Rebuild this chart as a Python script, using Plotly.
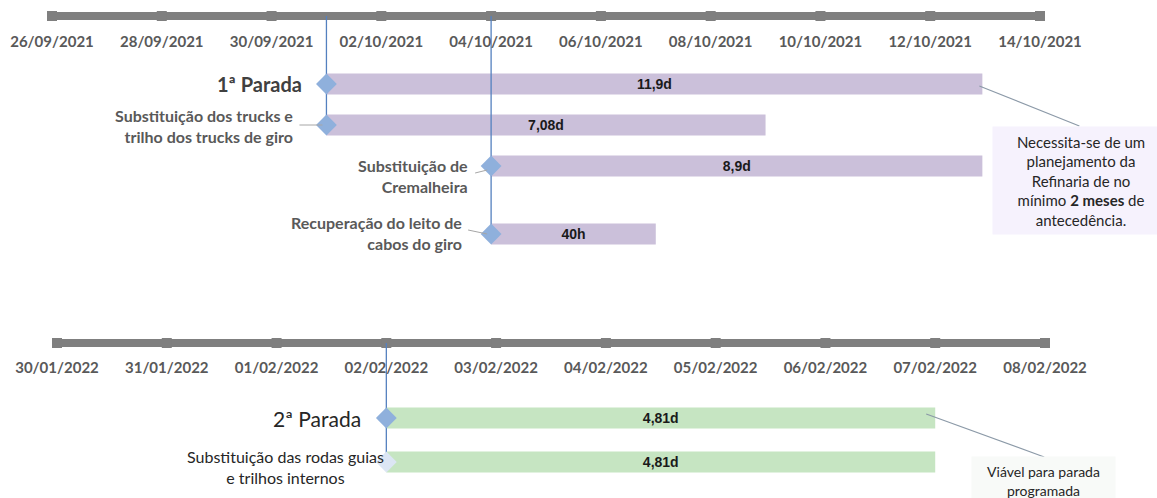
import pandas as pd
import plotly.graph_objects as go

W, H = 1157, 498

# ---------------- data ----------------
top_tasks = [
    "1ª Parada",
    "Substituição dos trucks e<br>trilho dos trucks de giro",
    "Substituição de<br>Cremalheira",
    "Recuperação do leito de<br>cabos do giro",
]
top_starts = ["2021-10-01", "2021-10-01", "2021-10-04", "2021-10-04"]
top_durations_days = [11.95, 8.0, 8.95, 3.0]
top_bar_labels = ["11,9d", "7,08d", "8,9d", "40h"]
top_tick_labels = ["26/09/2021", "28/09/2021", "30/09/2021", "02/10/2021", "04/10/2021",
                   "06/10/2021", "08/10/2021", "10/10/2021", "12/10/2021", "14/10/2021"]
top_note = ("Necessita-se de um<br>planejamento da<br>Refinaria de no<br>"
            "mínimo <b>2 meses</b> de<br>antecedência.")

bottom_tasks = ["2ª Parada", "Substituição das rodas guias<br>e trilhos internos"]
bottom_starts = ["2022-02-02", "2022-02-02"]
bottom_durations_days = [5.0, 5.0]
bottom_bar_labels = ["4,81d", "4,81d"]
bottom_tick_labels = ["30/01/2022", "31/01/2022", "01/02/2022", "02/02/2022", "03/02/2022",
                      "04/02/2022", "05/02/2022", "06/02/2022", "07/02/2022", "08/02/2022"]
bottom_note = "Viável para parada<br>programada"

# ---------------- layout / style constants ----------------
FONT = "Lato"
TOP_AXIS_Y, BOT_AXIS_Y = 16, 343
TOP_ROWS_Y = [84, 125, 166, 234]
BOT_ROWS_Y = [418, 462]
BAR_W = 21
TOP_PX = (52, 1040)   # pixel of first / last tick of upper time axis
BOT_PX = (57, 1045)   # pixel of first / last tick of lower time axis
AXIS_GREY = "#7f7f7f"
LAVENDER = "#cbc0da"
GREEN = "#c6e5c2"
DIAMOND = "#8fb0dc"
MILESTONE_LINE = "#5480bf"
LEADER = "#a6a6a6"

top_label_style = [
    dict(size=20, bold=True, color="#404040", xshift=-22, dy=0, align="right"),
    dict(size=16, bold=True, color="#595959", xshift=-31, dy=1, align="right"),
    dict(size=16, bold=True, color="#595959", xshift=-21, dy=10, align="right"),
    dict(size=16, bold=True, color="#595959", xshift=-27, dy=-1, align="right"),
]
bottom_label_style = [
    dict(size=21, bold=False, color="#262626", xshift=-23, dy=0, align="right"),
    dict(size=16, bold=False, color="#262626", xshift=0, dy=5, align="center"),
]
bottom_diamond_colors = [DIAMOND, "#dce6f4"]


def fmt(ts):
    return pd.Timestamp(ts).strftime("%Y-%m-%d %H:%M:%S.%f")


def axis_range(labels, px):
    t0 = pd.to_datetime(labels[0], format="%d/%m/%Y")
    t1 = pd.to_datetime(labels[-1], format="%d/%m/%Y")
    per_px = (t1 - t0) / (px[1] - px[0])
    return [fmt(t0 - per_px * px[0]), fmt(t1 + per_px * (W - px[1]))]


fig = go.Figure()


def add_section(xa, tick_labels, axis_y, tasks, starts, durs, bar_labels, rows,
                bar_color, diamond_colors, label_styles):
    tick_dates = [fmt(d) for d in pd.to_datetime(tick_labels, format="%d/%m/%Y")]
    # timeline axis bar with square tick marks
    fig.add_trace(go.Scatter(
        x=tick_dates, y=[axis_y] * len(tick_dates), xaxis=xa, yaxis="y",
        mode="lines+markers", line=dict(color=AXIS_GREY, width=8),
        marker=dict(symbol="square", size=10, color=AXIS_GREY),
        hoverinfo="skip"))
    # bars
    fig.add_trace(go.Bar(
        x=[d * 86400000 for d in durs], base=[fmt(s) for s in starts], y=rows,
        orientation="h", width=BAR_W, xaxis=xa, yaxis="y",
        marker=dict(color=bar_color, line=dict(width=0)),
        text=bar_labels, texttemplate="<b>%{text}</b>",
        textposition="inside", insidetextanchor="middle", textangle=0,
        constraintext="none",
        textfont=dict(family="Liberation Sans", size=14, color="#1a1a1a"),
        hoverinfo="skip"))
    # milestone lines from the axis down to the lowest task starting at that date
    for s in dict.fromkeys(starts):
        lowest = max(r for r, st in zip(rows, starts) if st == s)
        fig.add_trace(go.Scatter(
            x=[fmt(s), fmt(s)], y=[axis_y, lowest], xaxis=xa, yaxis="y",
            mode="lines", line=dict(color=MILESTONE_LINE, width=1.3),
            hoverinfo="skip"))
    # start diamonds
    fig.add_trace(go.Scatter(
        x=[fmt(s) for s in starts], y=rows, xaxis=xa, yaxis="y", mode="markers",
        marker=dict(symbol="diamond", size=16, color=diamond_colors, line=dict(width=0)),
        hoverinfo="skip"))
    # task labels
    for t, s, r, st in zip(tasks, starts, rows, label_styles):
        txt = f"<b>{t}</b>" if st["bold"] else t
        fig.add_annotation(
            x=fmt(s), xref=xa, y=r + st["dy"], yref="y", text=txt, showarrow=False,
            xanchor="right", yanchor="middle", xshift=st["xshift"], align=st["align"],
            font=dict(family=FONT, size=st["size"], color=st["color"]))


add_section("x", top_tick_labels, TOP_AXIS_Y, top_tasks, top_starts, top_durations_days,
            top_bar_labels, TOP_ROWS_Y, LAVENDER, [DIAMOND] * 4, top_label_style)
add_section("x2", bottom_tick_labels, BOT_AXIS_Y, bottom_tasks, bottom_starts,
            bottom_durations_days, bottom_bar_labels, BOT_ROWS_Y, GREEN,
            bottom_diamond_colors, bottom_label_style)

# small leader lines from the labels to the diamonds (pixel offsets from the start date)
leaders = [
    ("x", top_starts[1], -27, -4, TOP_ROWS_Y[1], TOP_ROWS_Y[1]),
    ("x", top_starts[2], -16, -4, TOP_ROWS_Y[2] + 7, TOP_ROWS_Y[2] + 4),
    ("x", top_starts[3], -23, -4, TOP_ROWS_Y[3] - 4, TOP_ROWS_Y[3]),
]
for xa, s, x0, x1, y0, y1 in leaders:
    fig.add_shape(type="line", xref=xa, xsizemode="pixel", xanchor=fmt(s), x0=x0, x1=x1,
                  yref="y", y0=y0, y1=y1, line=dict(color=LEADER, width=1))

# callouts
top_end = pd.Timestamp(top_starts[0]) + pd.Timedelta(days=top_durations_days[0])
bot_end = pd.Timestamp(bottom_starts[0]) + pd.Timedelta(days=bottom_durations_days[0])

fig.add_shape(type="line", xref="x", xsizemode="pixel", xanchor=fmt(top_end), x0=-3, x1=97,
              yref="y", y0=TOP_ROWS_Y[0] + 2, y1=126, line=dict(color="#8c9aa8", width=1.2))
fig.add_annotation(x=fmt(top_end), xref="x", y=180, yref="y", text=top_note,
                   showarrow=False, xanchor="left", yanchor="middle", xshift=10,
                   width=166, height=97, borderpad=5, bgcolor="#f6f2fd", align="center",
                   valign="middle", font=dict(family=FONT, size=15, color="#262626"))

fig.add_shape(type="line", xref="x2", xsizemode="pixel", xanchor=fmt(bot_end), x0=-9, x1=109,
              yref="y", y0=BOT_ROWS_Y[0] - 4, y1=457, line=dict(color="#8c9aa8", width=1.2))
fig.add_annotation(x=fmt(bot_end), xref="x2", y=481, yref="y", text=bottom_note,
                   showarrow=False, xanchor="left", yanchor="middle", xshift=36,
                   width=133, height=38, borderpad=5, bgcolor="#f8faf8", align="center",
                   valign="middle", font=dict(family=FONT, size=14, color="#262626"))

tickfont = dict(family=FONT, size=15, color="#595959", weight="bold")
fig.update_layout(
    width=W, height=H, margin=dict(l=0, r=0, t=0, b=0),
    paper_bgcolor="white", plot_bgcolor="white", showlegend=False, barmode="overlay",
    xaxis=dict(type="date", range=axis_range(top_tick_labels, TOP_PX), domain=[0, 1],
               tickvals=[fmt(d) for d in pd.to_datetime(top_tick_labels, format="%d/%m/%Y")],
               ticktext=top_tick_labels, showgrid=False, zeroline=False, showline=False,
               ticks="", anchor="free", position=1 - 31 / H, side="bottom",
               tickfont=tickfont, fixedrange=True),
    xaxis2=dict(type="date", range=axis_range(bottom_tick_labels, BOT_PX), domain=[0, 1],
                tickvals=[fmt(d) for d in pd.to_datetime(bottom_tick_labels, format="%d/%m/%Y")],
                ticktext=bottom_tick_labels, showgrid=False, zeroline=False, showline=False,
                ticks="", anchor="free", position=1 - 357 / H, side="bottom",
                overlaying="x", tickfont=tickfont, fixedrange=True),
    yaxis=dict(range=[H, 0], domain=[0, 1], visible=False, fixedrange=True),
)

fig.write_html("out.html", config={"displayModeBar": False})
